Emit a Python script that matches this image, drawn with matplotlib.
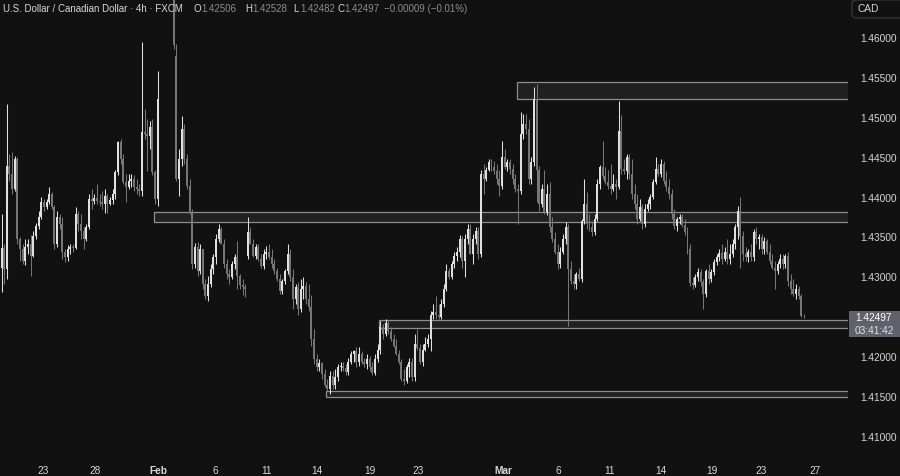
import matplotlib
matplotlib.use("Agg")
import matplotlib.pyplot as plt
from matplotlib.patches import Rectangle, FancyBboxPatch
import numpy as np

# ---------------- data (USD/CAD, 4h candles) ----------------
opens = [
 1.4311,1.4336,1.4309,1.4438,1.4428,1.4409,1.4447,1.4347,1.4334,1.4319,
 1.4337,1.4340,1.4325,1.4350,1.4363,1.4375,1.4393,1.4387,1.4393,1.4403,
 1.4387,1.4340,1.4374,1.4365,1.4330,1.4324,1.4334,1.4337,1.4335,1.4378,
 1.4365,1.4357,1.4347,1.4362,1.4397,1.4394,1.4398,1.4394,1.4393,1.4391,
 1.4401,1.4391,1.4396,1.4403,1.4431,1.4468,1.4447,1.4418,1.4412,1.4419,
 1.4422,1.4412,1.4409,1.4407,1.4481,1.4478,1.4476,1.4487,1.4431,1.4397,
 1.4700,1.4740,1.4760,1.4720,1.4690,1.4680,1.4577,1.4422,1.4447,1.4485,
 1.4447,1.4413,1.4380,1.4315,1.4337,1.4306,1.4334,1.4290,1.4275,1.4290,
 1.4309,1.4324,1.4347,1.4359,1.4340,1.4315,1.4303,1.4299,1.4315,1.4324,
 1.4300,1.4289,1.4287,1.4325,1.4355,1.4340,1.4325,1.4337,1.4322,1.4313,
 1.4328,1.4331,1.4324,1.4315,1.4306,1.4296,1.4281,1.4294,1.4306,1.4328,
 1.4299,1.4271,1.4286,1.4259,1.4284,1.4288,1.4271,1.4261,1.4221,1.4196,
 1.4186,1.4191,1.4177,1.4164,1.4158,1.4175,1.4164,1.4173,1.4186,1.4188,
 1.4185,1.4180,1.4193,1.4202,1.4206,1.4192,1.4202,1.4193,1.4190,1.4196,
 1.4186,1.4178,1.4196,1.4208,1.4236,1.4227,1.4241,1.4231,1.4221,1.4213,
 1.4203,1.4193,1.4171,1.4168,1.4186,1.4193,1.4173,1.4215,1.4210,1.4192,
 1.4208,1.4215,1.4221,1.4251,1.4255,1.4251,1.4249,1.4265,1.4284,1.4306,
 1.4299,1.4315,1.4325,1.4330,1.4347,1.4319,1.4347,1.4359,1.4328,1.4347,
 1.4357,1.4328,1.4428,1.4422,1.4434,1.4443,1.4437,1.4432,1.4422,1.4413,
 1.4450,1.4437,1.4443,1.4435,1.4422,1.4409,1.4407,1.4478,1.4491,1.4485,
 1.4422,1.4444,1.4522,1.4434,1.4391,1.4409,1.4381,1.4403,1.4362,1.4347,
 1.4331,1.4315,1.4331,1.4347,1.4362,1.4309,1.4294,1.4290,1.4303,1.4296,
 1.4369,1.4391,1.4365,1.4362,1.4355,1.4372,1.4416,1.4437,1.4426,1.4418,
 1.4413,1.4409,1.4416,1.4412,1.4482,1.4435,1.4432,1.4450,1.4428,1.4403,
 1.4391,1.4372,1.4387,1.4365,1.4384,1.4391,1.4399,1.4418,1.4435,1.4428,
 1.4441,1.4419,1.4412,1.4403,1.4378,1.4363,1.4372,1.4374,1.4364,1.4355,
 1.4334,1.4292,1.4289,1.4299,1.4305,1.4293,1.4278,1.4306,1.4296,1.4305,
 1.4318,1.4324,1.4329,1.4322,1.4331,1.4322,1.4328,1.4340,1.4362,1.4382,
 1.4350,1.4328,1.4324,1.4330,1.4324,1.4355,1.4347,1.4349,1.4334,1.4344,
 1.4331,1.4319,1.4311,1.4306,1.4315,1.4322,1.4315,1.4325,1.4294,1.4284,
 1.4278,1.4284,1.4275,1.42506]
highs = [
 1.4378,1.4340,1.4516,1.4453,1.4456,1.4451,1.4450,1.4349,1.4340,1.4347,
 1.4347,1.4352,1.4357,1.4367,1.4382,1.4399,1.4397,1.4397,1.4412,1.4406,
 1.4389,1.4382,1.4378,1.4374,1.4334,1.4339,1.4340,1.4340,1.4387,1.4382,
 1.4378,1.4362,1.4365,1.4403,1.4409,1.4403,1.4416,1.4403,1.4407,1.4409,
 1.4403,1.4399,1.4409,1.4434,1.4470,1.4472,1.4453,1.4428,1.4428,1.4428,
 1.4427,1.4422,1.4416,1.4594,1.4510,1.4497,1.4495,1.4497,1.4434,1.4558,
 1.4760,1.4793,1.4780,1.4740,1.4710,1.4720,1.4592,1.4460,1.4501,1.4491,
 1.4453,1.4422,1.4384,1.4342,1.4343,1.4340,1.4334,1.4296,1.4300,1.4315,
 1.4328,1.4353,1.4365,1.4362,1.4347,1.4322,1.4309,1.4319,1.4328,1.4344,
 1.4303,1.4296,1.4290,1.4375,1.4362,1.4347,1.4340,1.4340,1.4328,1.4334,
 1.4338,1.4340,1.4334,1.4322,1.4311,1.4303,1.4296,1.4309,1.4340,1.4334,
 1.4309,1.4290,1.4293,1.4296,1.4299,1.4293,1.4290,1.4277,1.4234,1.4202,
 1.4196,1.4193,1.4183,1.4171,1.4181,1.4181,1.4183,1.4190,1.4193,1.4193,
 1.4190,1.4198,1.4206,1.4208,1.4211,1.4211,1.4206,1.4198,1.4202,1.4200,
 1.4193,1.4202,1.4215,1.4244,1.4240,1.4246,1.4244,1.4236,1.4227,1.4221,
 1.4208,1.4196,1.4183,1.4190,1.4198,1.4198,1.4227,1.4234,1.4215,1.4215,
 1.4224,1.4227,1.4256,1.4265,1.4275,1.4265,1.4271,1.4290,1.4315,1.4311,
 1.4319,1.4331,1.4337,1.4352,1.4350,1.4353,1.4365,1.4365,1.4353,1.4362,
 1.4362,1.4434,1.4441,1.4437,1.4447,1.4447,1.4445,1.4441,1.4434,1.4470,
 1.4460,1.4447,1.4447,1.4441,1.4428,1.4416,1.4506,1.4504,1.4504,1.4497,
 1.4450,1.4537,1.4541,1.4438,1.4416,1.4434,1.4416,1.4418,1.4375,1.4355,
 1.4340,1.4337,1.4353,1.4368,1.4365,1.4319,1.4303,1.4305,1.4311,1.4372,
 1.4422,1.4406,1.4378,1.4369,1.4378,1.4422,1.4440,1.4470,1.4437,1.4434,
 1.4441,1.4428,1.4422,1.4520,1.4502,1.4447,1.4453,1.4453,1.4447,1.4416,
 1.4403,1.4397,1.4391,1.4391,1.4397,1.4403,1.4422,1.4450,1.4441,1.4447,
 1.4445,1.4432,1.4422,1.4409,1.4384,1.4374,1.4378,1.4378,1.4372,1.4362,
 1.4340,1.4299,1.4303,1.4311,1.4309,1.4296,1.4309,1.4315,1.4309,1.4322,
 1.4328,1.4334,1.4340,1.4337,1.4347,1.4340,1.4347,1.4365,1.4388,1.4399,
 1.4357,1.4337,1.4334,1.4340,1.4359,1.4362,1.4353,1.4353,1.4349,1.4347,
 1.4340,1.4328,1.4319,1.4319,1.4328,1.4328,1.4328,1.4330,1.4303,1.4296,
 1.4290,1.4288,1.4278,1.42528]
lows = [
 1.4280,1.4290,1.4296,1.4419,1.4403,1.4407,1.4340,1.4319,1.4315,1.4314,
 1.4328,1.4300,1.4324,1.4347,1.4359,1.4372,1.4382,1.4384,1.4391,1.4384,
 1.4334,1.4337,1.4359,1.4322,1.4318,1.4319,1.4328,1.4331,1.4334,1.4357,
 1.4347,1.4334,1.4344,1.4359,1.4384,1.4391,1.4391,1.4388,1.4384,1.4380,
 1.4380,1.4389,1.4391,1.4397,1.4427,1.4441,1.4416,1.4393,1.4409,1.4412,
 1.4407,1.4403,1.4401,1.4401,1.4472,1.4432,1.4460,1.4427,1.4391,1.4388,
 1.4680,1.4720,1.4700,1.4670,1.4660,1.4585,1.4419,1.4401,1.4438,1.4441,
 1.4409,1.4378,1.4309,1.4311,1.4300,1.4303,1.4284,1.4271,1.4269,1.4286,
 1.4303,1.4315,1.4343,1.4340,1.4311,1.4296,1.4290,1.4296,1.4309,1.4284,
 1.4284,1.4276,1.4274,1.4322,1.4340,1.4324,1.4322,1.4319,1.4311,1.4309,
 1.4322,1.4322,1.4311,1.4303,1.4294,1.4278,1.4278,1.4290,1.4303,1.4294,
 1.4259,1.4265,1.4252,1.4255,1.4271,1.4265,1.4256,1.4212,1.4190,1.4181,
 1.4181,1.4171,1.4161,1.4156,1.4152,1.4158,1.4158,1.4168,1.4181,1.4181,
 1.4176,1.4176,1.4190,1.4193,1.4186,1.4188,1.4190,1.4186,1.4183,1.4181,
 1.4176,1.4176,1.4193,1.4202,1.4221,1.4225,1.4227,1.4219,1.4211,1.4201,
 1.4190,1.4168,1.4164,1.4166,1.4173,1.4168,1.4168,1.4208,1.4190,1.4188,
 1.4206,1.4211,1.4206,1.4246,1.4246,1.4246,1.4246,1.4261,1.4281,1.4296,
 1.4296,1.4311,1.4319,1.4324,1.4311,1.4299,1.4340,1.4328,1.4315,1.4340,
 1.4322,1.4324,1.4403,1.4419,1.4432,1.4432,1.4428,1.4416,1.4401,1.4409,
 1.4435,1.4432,1.4428,1.4416,1.4406,1.4365,1.4403,1.4472,1.4478,1.4416,
 1.4416,1.4438,1.4393,1.4382,1.4387,1.4378,1.4377,1.4355,1.4343,1.4328,
 1.4309,1.4311,1.4328,1.4340,1.4237,1.4290,1.4284,1.4284,1.4294,1.4293,
 1.4365,1.4359,1.4357,1.4350,1.4352,1.4369,1.4409,1.4422,1.4416,1.4409,
 1.4403,1.4407,1.4397,1.4409,1.4428,1.4428,1.4422,1.4422,1.4397,1.4384,
 1.4365,1.4369,1.4359,1.4362,1.4382,1.4384,1.4397,1.4416,1.4426,1.4424,
 1.4416,1.4407,1.4397,1.4372,1.4359,1.4357,1.4365,1.4362,1.4352,1.4328,
 1.4288,1.4284,1.4286,1.4294,1.4288,1.4259,1.4274,1.4290,1.4293,1.4301,
 1.4314,1.4319,1.4315,1.4319,1.4315,1.4315,1.4324,1.4334,1.4347,1.4311,
 1.4319,1.4319,1.4318,1.4319,1.4319,1.4340,1.4334,1.4328,1.4328,1.4328,
 1.4315,1.4309,1.4284,1.4303,1.4311,1.4309,1.4311,1.4288,1.4278,1.4275,
 1.4271,1.4271,1.4249,1.42482]
closes = [
 1.4336,1.4309,1.4438,1.4428,1.4409,1.4447,1.4347,1.4334,1.4319,1.4337,
 1.4340,1.4325,1.4350,1.4363,1.4375,1.4393,1.4387,1.4393,1.4403,1.4387,
 1.4340,1.4374,1.4365,1.4330,1.4324,1.4334,1.4337,1.4335,1.4378,1.4365,
 1.4357,1.4347,1.4362,1.4397,1.4394,1.4398,1.4394,1.4393,1.4391,1.4401,
 1.4391,1.4396,1.4403,1.4431,1.4468,1.4447,1.4418,1.4412,1.4419,1.4422,
 1.4412,1.4409,1.4407,1.4481,1.4478,1.4476,1.4487,1.4431,1.4397,1.4522,
 1.4740,1.4760,1.4720,1.4690,1.4680,1.4590,1.4422,1.4447,1.4485,1.4447,
 1.4413,1.4380,1.4315,1.4337,1.4306,1.4334,1.4290,1.4275,1.4290,1.4309,
 1.4324,1.4347,1.4359,1.4340,1.4315,1.4303,1.4299,1.4315,1.4324,1.4300,
 1.4289,1.4287,1.4284,1.4355,1.4340,1.4325,1.4337,1.4322,1.4313,1.4328,
 1.4331,1.4324,1.4315,1.4306,1.4296,1.4281,1.4294,1.4306,1.4328,1.4299,
 1.4271,1.4286,1.4259,1.4284,1.4288,1.4271,1.4261,1.4221,1.4196,1.4186,
 1.4191,1.4177,1.4164,1.4158,1.4175,1.4164,1.4173,1.4186,1.4188,1.4185,
 1.4180,1.4193,1.4202,1.4206,1.4192,1.4202,1.4193,1.4190,1.4196,1.4186,
 1.4178,1.4196,1.4208,1.4236,1.4227,1.4241,1.4231,1.4221,1.4213,1.4203,
 1.4193,1.4171,1.4168,1.4186,1.4193,1.4173,1.4215,1.4210,1.4192,1.4208,
 1.4215,1.4221,1.4251,1.4255,1.4251,1.4249,1.4265,1.4284,1.4306,1.4299,
 1.4315,1.4325,1.4330,1.4347,1.4319,1.4347,1.4359,1.4328,1.4347,1.4357,
 1.4328,1.4428,1.4422,1.4434,1.4443,1.4437,1.4432,1.4422,1.4413,1.4450,
 1.4437,1.4443,1.4435,1.4422,1.4409,1.4407,1.4478,1.4491,1.4485,1.4422,
 1.4444,1.4522,1.4434,1.4391,1.4409,1.4381,1.4403,1.4362,1.4347,1.4331,
 1.4315,1.4331,1.4347,1.4362,1.4309,1.4294,1.4290,1.4303,1.4296,1.4369,
 1.4391,1.4365,1.4362,1.4355,1.4372,1.4416,1.4437,1.4426,1.4418,1.4413,
 1.4409,1.4416,1.4412,1.4482,1.4435,1.4432,1.4450,1.4428,1.4403,1.4391,
 1.4372,1.4387,1.4365,1.4384,1.4391,1.4399,1.4418,1.4435,1.4428,1.4441,
 1.4419,1.4412,1.4403,1.4378,1.4363,1.4372,1.4374,1.4364,1.4355,1.4334,
 1.4292,1.4289,1.4299,1.4305,1.4293,1.4278,1.4306,1.4296,1.4305,1.4318,
 1.4324,1.4329,1.4322,1.4331,1.4322,1.4328,1.4340,1.4362,1.4382,1.4350,
 1.4328,1.4324,1.4330,1.4324,1.4355,1.4347,1.4349,1.4334,1.4344,1.4331,
 1.4319,1.4311,1.4306,1.4315,1.4322,1.4315,1.4325,1.4294,1.4284,1.4278,
 1.4284,1.4275,1.42506,1.42497]

# support / resistance zones: (first bar, low, high)
zone_start = [195, 58, 143, 123]
zone_low = [1.4522, 1.4368, 1.4235, 1.4148]
zone_high = [1.4544, 1.4381, 1.4245, 1.4156]

# date axis
date_labels = ["23", "28", "Feb", "6", "11", "14", "19", "23", "Mar", "6", "11", "14", "19", "23", "27"]
date_bars = [15.7, 35.3, 59.1, 80.6, 99.9, 119.1, 139.1, 157.2, 189.3, 210.1, 229.7, 249.0, 268.2, 286.7, 307.1]
price_ticks = [1.41, 1.415, 1.42, 1.43, 1.435, 1.44, 1.445, 1.45, 1.455, 1.46]

symbol_title = "U.S. Dollar / Canadian Dollar \u00b7 4h \u00b7 FXCM"
countdown = "03:41:42"
currency = "CAD"

# ---------------- style ----------------
BG = "#111111"
UP = "#e0e0e0"
DOWN = "#767676"
TXT = "#d6d6d6"
GREY = "#8c8c8c"
FONT = "Liberation Sans"

W, H = 900, 477
fig = plt.figure(figsize=(W / 100, H / 100), dpi=100, facecolor=BG)
ax = fig.add_axes([0, 25 / H, 848 / W, 452 / H])
ax.set_facecolor(BG)
for s in ax.spines.values():
    s.set_visible(False)

o = np.array(opens); h = np.array(highs); l = np.array(lows); c = np.array(closes)
n = len(c)
x = np.arange(n)
up = c >= o
cols = np.where(up, UP, DOWN)

ax.set_xlim(-0.57, 319.6)
ax.set_ylim(1.40807, 1.4648)

# zones
for zs, zl, zh in zip(zone_start, zone_low, zone_high):
    ax.add_patch(Rectangle((zs - 0.5, zl), 400, zh - zl, facecolor="#202020",
                           edgecolor="#8e8e8e", linewidth=0.9, zorder=1))

# candles
ax.vlines(x, l, h, colors=cols, linewidth=0.75, zorder=3)
body_lo = np.minimum(o, c)
body_h = np.maximum(np.abs(c - o), 0.00004)
ax.bar(x, body_h, bottom=body_lo, width=0.75, color=cols, linewidth=0, zorder=4)

# axes ticks
ax.yaxis.tick_right()
ax.set_yticks(price_ticks)
ax.set_yticklabels([f"{v:.5f}" for v in price_ticks], fontsize=7.3, color=TXT, family=FONT)
ax.tick_params(axis="y", length=0, pad=9)
ax.set_xticks(date_bars)
ax.set_xticklabels(date_labels, fontsize=7.3, color=TXT, family=FONT)
for lab in ax.get_xticklabels():
    if lab.get_text() in ("Feb", "Mar"):
        lab.set_fontweight("bold")
ax.tick_params(axis="x", length=0, pad=10)

def px(xp, yp):
    return xp / W, 1 - yp / H

# last price box
fig.patches.append(Rectangle(px(849, 338), 51 / W, 26 / H, transform=fig.transFigure,
                             facecolor="#5f626a", edgecolor="none", zorder=5))
fig.text(*px(874, 318), f"{closes[-1]:.5f}", color="#ffffff", fontsize=7.3, family=FONT,
         ha="center", va="center", zorder=6)
fig.text(*px(874, 331), countdown, color="#e0e0e0", fontsize=7.3, family=FONT,
         ha="center", va="center", zorder=6)

# currency box
fig.patches.append(FancyBboxPatch(px(852, 19), 60 / W, 18 / H, transform=fig.transFigure,
                                  boxstyle="round,pad=0,rounding_size=0.006",
                                  facecolor=BG, edgecolor="#3c3c3c", linewidth=0.8, zorder=5))
fig.text(*px(858, 9.5), currency, color=TXT, fontsize=7.3, family=FONT, ha="left", va="center", zorder=6)

# header
fs = 7.0
fig.text(*px(3, 8.5), symbol_title, color=TXT, fontsize=fs, family=FONT, va="center")
chg = closes[-1] - closes[-2]
pct = chg / closes[-2] * 100
items = [("O", opens[-1], 194), ("H", highs[-1], 245), ("L", lows[-1], 293), ("C", closes[-1], 337)]
for lab, val, xp in items:
    fig.text(*px(xp, 8.5), lab, color=TXT, fontsize=fs, family=FONT, va="center")
    fig.text(*px(xp + 7, 8.5), f"{val:.5f}", color=GREY, fontsize=fs, family=FONT, va="center")
fig.text(*px(384, 8.5), f"\u2212{abs(chg):.5f} (\u2212{abs(pct):.2f}%)", color=GREY,
         fontsize=fs, family=FONT, va="center")

fig.savefig("out.png", dpi=100, facecolor=BG)
